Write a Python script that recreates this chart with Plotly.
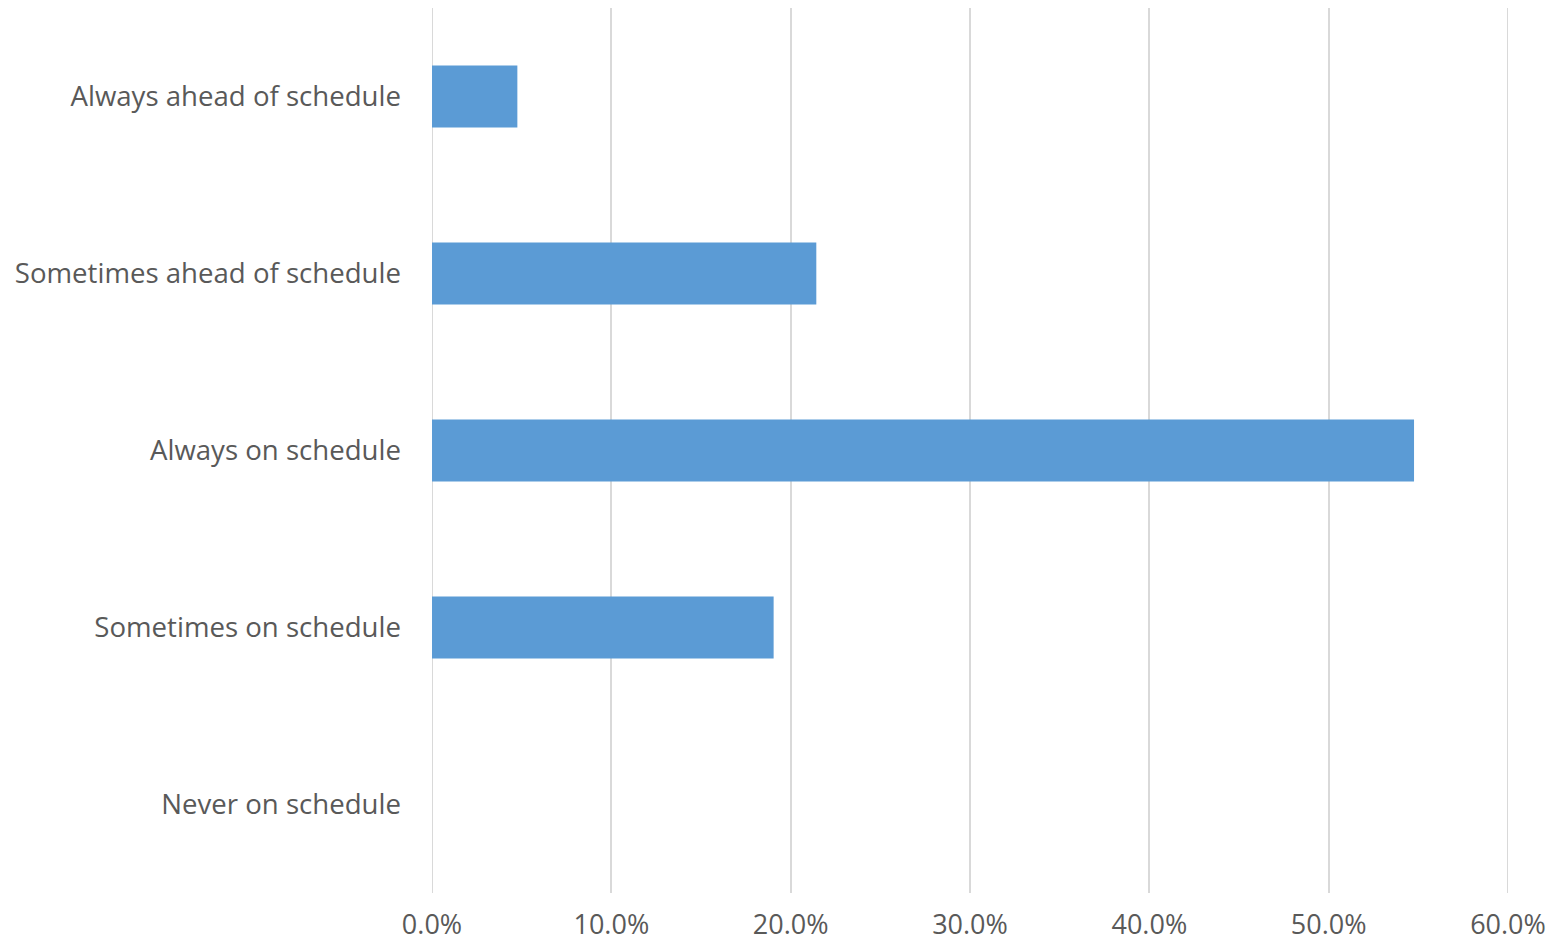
import plotly.graph_objects as go

categories = [
    "Always ahead of schedule",
    "Sometimes ahead of schedule",
    "Always on schedule",
    "Sometimes on schedule",
    "Never on schedule",
]
shares = [0.0476, 0.2143, 0.5476, 0.1905, 0.0]
x_ticks = [0, 0.1, 0.2, 0.3, 0.4, 0.5, 0.6]

fig = go.Figure(
    go.Bar(
        x=shares,
        y=categories,
        orientation="h",
        marker=dict(color="#5b9bd5", line=dict(width=0)),
        hoverinfo="x+y",
    )
)

# Plotly skips gridlines at the range ends, so draw those two as shapes.
for edge in (x_ticks[0], x_ticks[-1]):
    fig.add_shape(
        type="line", xref="x", yref="paper",
        x0=edge, x1=edge, y0=0, y1=1,
        line=dict(color="#d9d9d9", width=2),
        layer="below",
    )

fig.update_layout(
    width=1562,
    height=948,
    margin=dict(l=432, r=54, t=8, b=55),
    plot_bgcolor="white",
    paper_bgcolor="white",
    bargap=0.65,
    showlegend=False,
    font=dict(family="Open Sans, sans-serif", size=27.6, color="#595959"),
)
fig.update_xaxes(
    range=[0, 0.6],
    tickvals=x_ticks,
    tickformat=".1%",
    tickfont=dict(size=27),
    showgrid=True,
    gridcolor="#d9d9d9",
    gridwidth=2,
    zeroline=False,
    showline=False,
    ticks="",
    ticklabelstandoff=13,
    automargin=False,
    fixedrange=True,
)
fig.update_yaxes(
    categoryorder="array",
    categoryarray=categories[::-1],
    showgrid=False,
    zeroline=False,
    showline=False,
    ticks="",
    ticklabelstandoff=30,
    automargin=False,
    fixedrange=True,
)

fig.write_html("out.html")
